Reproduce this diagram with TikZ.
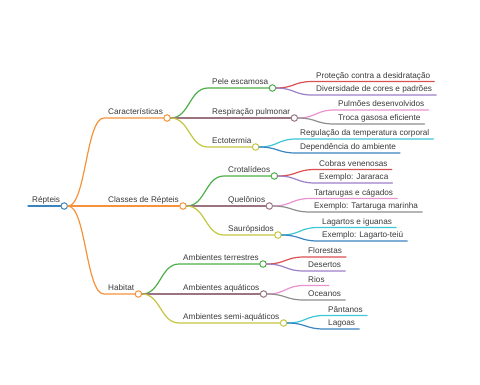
\documentclass[tikz,border=0pt]{standalone}
\usepackage{fontspec}
\setmainfont{Liberation Sans}
\usetikzlibrary{calc}
\definecolor{cblue}{HTML}{3A84C0}
\definecolor{corange}{HTML}{F6923A}
\definecolor{cgreen}{HTML}{4DAF4A}
\definecolor{cred}{HTML}{DA5052}
\definecolor{cpurple}{HTML}{9C7FC8}
\definecolor{cbrown}{HTML}{9A7480}
\definecolor{cpink}{HTML}{EA92CF}
\definecolor{cgray}{HTML}{8E8E8E}
\definecolor{colive}{HTML}{C4C640}
\definecolor{ccyan}{HTML}{3CC6D6}
\definecolor{txt}{HTML}{3A3A3A}
\tikzset{
  curvy/.style={to path={.. controls ($(\tikztostart)!.5!(\tikztotarget|-\tikztostart)$) and ($(\tikztotarget)!.5!(\tikztostart|-\tikztotarget)$) .. (\tikztotarget)}},
}
\begin{document}
\begin{tikzpicture}[x=1pt,y=-1pt,
  every node/.style={font=\fontsize{8.2}{9}\selectfont,text=txt},
  topic/.style={anchor=south west,inner xsep=4pt,inner ysep=1.2pt,text height=6pt,text depth=2pt},
  ln/.style={line width=1.2pt,line cap=round,draw=#1},
  dot/.style={circle,draw=#1,fill=white,line width=1pt,inner sep=0pt,minimum size=6.5pt}]
\useasboundingbox (0,0) rectangle (480,384);
% root
\node[topic] (rep) at (28,206) {Répteis};
\draw[ln=cblue] (rep.south west) -- (rep.south east);
\node[dot=cblue] (rep-d) at (rep.south east) {};
% first level
\node[topic] (car) at (104,118) {Características};
\node[topic] (cla) at (104,206) {Classes de Répteis};
\node[topic] (hab) at (104,294) {Habitat};
\draw[ln=corange] (rep-d.east) to[curvy] (car.south west) -- (car.south east);
\draw[ln=corange] (rep-d.east) to[curvy] (cla.south west) -- (cla.south east);
\draw[ln=corange] (rep-d.east) to[curvy] (hab.south west) -- (hab.south east);
\node[dot=corange] (car-d) at (car.south east) {};
\node[dot=corange] (cla-d) at (cla.south east) {};
\node[dot=corange] (hab-d) at (hab.south east) {};
% Caracteristicas
\node[topic] (pel) at (208,88) {Pele escamosa};
\node[topic] (res) at (208,118) {Respiração pulmonar};
\node[topic] (ect) at (208,147) {Ectotermia};
\draw[ln=cgreen] (car-d.east) to[curvy] (pel.south west) -- (pel.south east);
\draw[ln=cbrown] (car-d.east) to[curvy] (res.south west) -- (res.south east);
\draw[ln=colive] (car-d.east) to[curvy] (ect.south west) -- (ect.south east);
\node[dot=cgreen] (pel-d) at (pel.south east) {};
\node[dot=cbrown] (res-d) at (res.south east) {};
\node[dot=colive] (ect-d) at (ect.south east) {};
\node[topic] (pel1) at (312,81.5) {Proteção contra a desidratação};
\node[topic] (pel2) at (312,95) {Diversidade de cores e padrões};
\node[topic] (res1) at (334,110) {Pulmões desenvolvidos};
\node[topic] (res2) at (334,124) {Troca gasosa eficiente};
\node[topic] (ect1) at (296,139) {Regulação da temperatura corporal};
\node[topic] (ect2) at (296,153) {Dependência do ambiente};
\draw[ln=cred] (pel-d.east) to[curvy] (pel1.south west) -- (pel1.south east);
\draw[ln=cpurple] (pel-d.east) to[curvy] (pel2.south west) -- (pel2.south east);
\draw[ln=cpink] (res-d.east) to[curvy] (res1.south west) -- (res1.south east);
\draw[ln=cgray] (res-d.east) to[curvy] (res2.south west) -- (res2.south east);
\draw[ln=ccyan] (ect-d.east) to[curvy] (ect1.south west) -- (ect1.south east);
\draw[ln=cblue] (ect-d.east) to[curvy] (ect2.south west) -- (ect2.south east);
% Classes de Repteis
\node[topic] (cro) at (224,176) {Crotalídeos};
\node[topic] (que) at (224,206) {Quelônios};
\node[topic] (sau) at (224,235) {Saurópsidos};
\draw[ln=cgreen] (cla-d.east) to[curvy] (cro.south west) -- (cro.south east);
\draw[ln=cbrown] (cla-d.east) to[curvy] (que.south west) -- (que.south east);
\draw[ln=colive] (cla-d.east) to[curvy] (sau.south west) -- (sau.south east);
\node[dot=cgreen] (cro-d) at (cro.south east) {};
\node[dot=cbrown] (que-d) at (que.south east) {};
\node[dot=colive] (sau-d) at (sau.south east) {};
\node[topic] (cro1) at (315,169.5) {Cobras venenosas};
\node[topic] (cro2) at (315,183) {Exemplo: Jararaca};
\node[topic] (que1) at (310,198.5) {Tartarugas e cágados};
\node[topic] (que2) at (310,212) {Exemplo: Tartaruga marinha};
\node[topic] (sau1) at (318,227.5) {Lagartos e iguanas};
\node[topic] (sau2) at (318,241) {Exemplo: Lagarto-teiú};
\draw[ln=cred] (cro-d.east) to[curvy] (cro1.south west) -- (cro1.south east);
\draw[ln=cpurple] (cro-d.east) to[curvy] (cro2.south west) -- (cro2.south east);
\draw[ln=cpink] (que-d.east) to[curvy] (que1.south west) -- (que1.south east);
\draw[ln=cgray] (que-d.east) to[curvy] (que2.south west) -- (que2.south east);
\draw[ln=ccyan] (sau-d.east) to[curvy] (sau1.south west) -- (sau1.south east);
\draw[ln=cblue] (sau-d.east) to[curvy] (sau2.south west) -- (sau2.south east);
% Habitat
\node[topic] (ter) at (179,264) {Ambientes terrestres};
\node[topic] (aqu) at (179,294) {Ambientes aquáticos};
\node[topic] (sem) at (179,323) {Ambientes semi-aquáticos};
\draw[ln=cgreen] (hab-d.east) to[curvy] (ter.south west) -- (ter.south east);
\draw[ln=cbrown] (hab-d.east) to[curvy] (aqu.south west) -- (aqu.south east);
\draw[ln=colive] (hab-d.east) to[curvy] (sem.south west) -- (sem.south east);
\node[dot=cgreen] (ter-d) at (ter.south east) {};
\node[dot=cbrown] (aqu-d) at (aqu.south east) {};
\node[dot=colive] (sem-d) at (sem.south east) {};
\node[topic] (ter1) at (304,257) {Florestas};
\node[topic] (ter2) at (304,271) {Desertos};
\node[topic] (aqu1) at (304,285.5) {Rios};
\node[topic] (aqu2) at (304,300) {Oceanos};
\node[topic] (sem1) at (324,315.5) {Pântanos};
\node[topic] (sem2) at (324,329) {Lagoas};
\draw[ln=cred] (ter-d.east) to[curvy] (ter1.south west) -- (ter1.south east);
\draw[ln=cpurple] (ter-d.east) to[curvy] (ter2.south west) -- (ter2.south east);
\draw[ln=cpink] (aqu-d.east) to[curvy] (aqu1.south west) -- (aqu1.south east);
\draw[ln=cgray] (aqu-d.east) to[curvy] (aqu2.south west) -- (aqu2.south east);
\draw[ln=ccyan] (sem-d.east) to[curvy] (sem1.south west) -- (sem1.south east);
\draw[ln=cblue] (sem-d.east) to[curvy] (sem2.south west) -- (sem2.south east);
\end{tikzpicture}
\end{document}
